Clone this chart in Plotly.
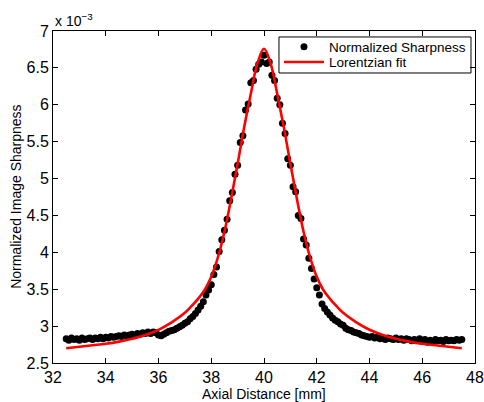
import plotly.graph_objects as go

# Axial positions [mm]
axial_mm = [32.5, 32.6, 32.7, 32.8, 32.9, 33.0, 33.1, 33.2, 33.3, 33.4, 33.5, 33.6, 33.7, 33.8, 33.9,
            34.0, 34.1, 34.2, 34.3, 34.4, 34.5, 34.6, 34.7, 34.8, 34.9, 35.0, 35.1, 35.2, 35.3, 35.4,
            35.5, 35.6, 35.7, 35.8, 35.9, 36.0, 36.1, 36.2, 36.3, 36.4, 36.5, 36.6, 36.7, 36.8, 36.9,
            37.0, 37.1, 37.2, 37.3, 37.4, 37.5, 37.6, 37.7, 37.8, 37.9, 38.0, 38.1, 38.2, 38.3, 38.4,
            38.5, 38.6, 38.7, 38.8, 38.9, 39.0, 39.1, 39.2, 39.3, 39.4, 39.5, 39.6, 39.7, 39.8, 39.9,
            40.0, 40.1, 40.2, 40.3, 40.4, 40.5, 40.6, 40.7, 40.8, 40.9, 41.0, 41.1, 41.2, 41.3, 41.4,
            41.5, 41.6, 41.7, 41.8, 41.9, 42.0, 42.1, 42.2, 42.3, 42.4, 42.5, 42.6, 42.7, 42.8, 42.9,
            43.0, 43.1, 43.2, 43.3, 43.4, 43.5, 43.6, 43.7, 43.8, 43.9, 44.0, 44.1, 44.2, 44.3, 44.4,
            44.5, 44.6, 44.7, 44.8, 44.9, 45.0, 45.1, 45.2, 45.3, 45.4, 45.5, 45.6, 45.7, 45.8, 45.9,
            46.0, 46.1, 46.2, 46.3, 46.4, 46.5, 46.6, 46.7, 46.8, 46.9, 47.0, 47.1, 47.2, 47.3, 47.4,
            47.5]

# Normalized sharpness (x 10^-3)
sharpness = [2.83, 2.81, 2.84, 2.82, 2.83, 2.81, 2.84, 2.82, 2.83, 2.84, 2.82, 2.84, 2.83, 2.85, 2.83,
             2.85, 2.84, 2.86, 2.85, 2.86, 2.87, 2.86, 2.88, 2.87, 2.88, 2.89, 2.87, 2.90, 2.89, 2.91,
             2.90, 2.92, 2.90, 2.92, 2.91, 2.88, 2.87, 2.89, 2.91, 2.93, 2.94, 2.95, 2.97, 2.99, 3.01,
             3.04, 3.06, 3.10, 3.13, 3.17, 3.22, 3.27, 3.33, 3.42, 3.49, 3.56, 3.70, 3.80, 4.01, 4.17,
             4.30, 4.45, 4.70, 4.81, 5.06, 5.18, 5.49, 5.58, 5.93, 6.01, 6.30, 6.33, 6.48, 6.55, 6.58,
             6.67, 6.56, 6.58, 6.40, 6.33, 6.09, 6.00, 5.75, 5.61, 5.27, 5.18, 4.89, 4.82, 4.50, 4.46,
             4.18, 4.10, 3.92, 3.78, 3.64, 3.52, 3.42, 3.30, 3.24, 3.19, 3.15, 3.11, 3.08, 3.06, 3.03,
             3.01, 2.97, 2.95, 2.94, 2.92, 2.91, 2.90, 2.88, 2.87, 2.86, 2.85, 2.86, 2.84, 2.85, 2.83,
             2.84, 2.82, 2.84, 2.83, 2.82, 2.84, 2.82, 2.83, 2.81, 2.83, 2.82, 2.80, 2.82, 2.81, 2.83,
             2.79, 2.82, 2.78, 2.81, 2.79, 2.82, 2.80, 2.81, 2.79, 2.82, 2.80, 2.81, 2.80, 2.82, 2.81,
             2.82]

# Lorentzian fit curve (x 10^-3)
fit_x = [32.5, 33.0, 33.5, 34.0, 34.5, 35.0, 35.5, 36.0, 36.5, 37.0, 37.25, 37.5, 37.75, 38.0,
         38.25, 38.5, 38.75, 39.0, 39.25, 39.5, 39.75, 40.0, 40.25, 40.5, 40.75, 41.0, 41.25,
         41.5, 41.75, 42.0, 42.25, 42.5, 42.75, 43.0, 43.5, 44.0, 44.5, 45.0, 45.5, 46.0, 46.5,
         47.0, 47.5]
fit_y = [2.70, 2.72, 2.74, 2.76, 2.79, 2.83, 2.88, 2.95, 3.05, 3.18, 3.27, 3.37, 3.49, 3.67,
         3.93, 4.28, 4.72, 5.20, 5.70, 6.15, 6.56, 6.76, 6.56, 6.15, 5.70, 5.20, 4.72,
         4.28, 3.93, 3.67, 3.49, 3.37, 3.27, 3.18, 3.05, 2.95, 2.88, 2.83, 2.79, 2.76, 2.74,
         2.72, 2.70]

x_ticks = [32, 34, 36, 38, 40, 42, 44, 46, 48]
y_ticks = [2.5, 3, 3.5, 4, 4.5, 5, 5.5, 6, 6.5, 7]
y_tick_text = ["2.5", "3", "3.5", "4", "4.5", "5", "5.5", "6", "6.5", "7"]

FONT = "Liberation Sans, Arial, sans-serif"

fig = go.Figure()
fig.add_trace(go.Scatter(
    x=axial_mm, y=sharpness, mode="markers", name="Normalized Sharpness",
    marker=dict(color="black", size=7, line=dict(width=0)),
    legend="legend",
))
fig.add_trace(go.Scatter(
    x=fit_x, y=fit_y, mode="lines", name="Lorentzian fit",
    line=dict(color="#ff0000", width=2.6, shape="spline", smoothing=1.0),
    legend="legend2",
))

axis_common = dict(
    showline=True, linecolor="black", linewidth=1, mirror="ticks",
    ticks="inside", ticklen=5, tickcolor="black", tickwidth=1,
    showgrid=False, zeroline=False,
    tickfont=dict(family=FONT, size=16, color="black"),
)

legend_common = dict(
    xanchor="left", yanchor="middle", borderwidth=0,
    bgcolor="rgba(0,0,0,0)", itemwidth=40,
    font=dict(family=FONT, size=13.5, color="black"),
)

fig.update_layout(
    width=484, height=402,
    margin=dict(l=53, r=9, t=31, b=39, autoexpand=False),
    paper_bgcolor="white", plot_bgcolor="white",
    font=dict(family=FONT, color="black"),
    xaxis=dict(range=[32, 48], tickvals=x_ticks, ticktext=[str(v) for v in x_ticks], **axis_common),
    yaxis=dict(range=[2.5, 7], tickvals=y_ticks, ticktext=y_tick_text, **axis_common),
    legend=dict(x=0.5355, y=0.952, **legend_common),
    legend2=dict(x=0.5355, y=0.906, **legend_common),
    showlegend=True,
    shapes=[
        # legend frame
        dict(type="rect", xref="paper", yref="paper", x0=0.5355, x1=0.9905, y0=0.8735, y1=0.982,
             line=dict(color="black", width=1), fillcolor="rgba(0,0,0,0)", layer="above"),
    ],
    annotations=[
        dict(text="Axial Distance [mm]", xref="paper", yref="paper", x=0.5, y=-0.092,
             xanchor="center", yanchor="middle", showarrow=False,
             font=dict(family=FONT, size=14, color="black")),
        dict(text="Normalized Image Sharpness", xref="paper", yref="paper", x=-0.088, y=0.5,
             xanchor="center", yanchor="middle", textangle=-90, showarrow=False,
             font=dict(family=FONT, size=14, color="black")),
        dict(text="x 10<sup>\u22123</sup>", xref="paper", yref="paper", x=0.0, y=0.999,
             xanchor="left", yanchor="bottom", showarrow=False,
             font=dict(family=FONT, size=14, color="black")),
    ],
)

fig.write_html("out.html", config={"displayModeBar": False},
               post_script="document.body.style.margin='0';document.body.style.overflow='hidden';")
